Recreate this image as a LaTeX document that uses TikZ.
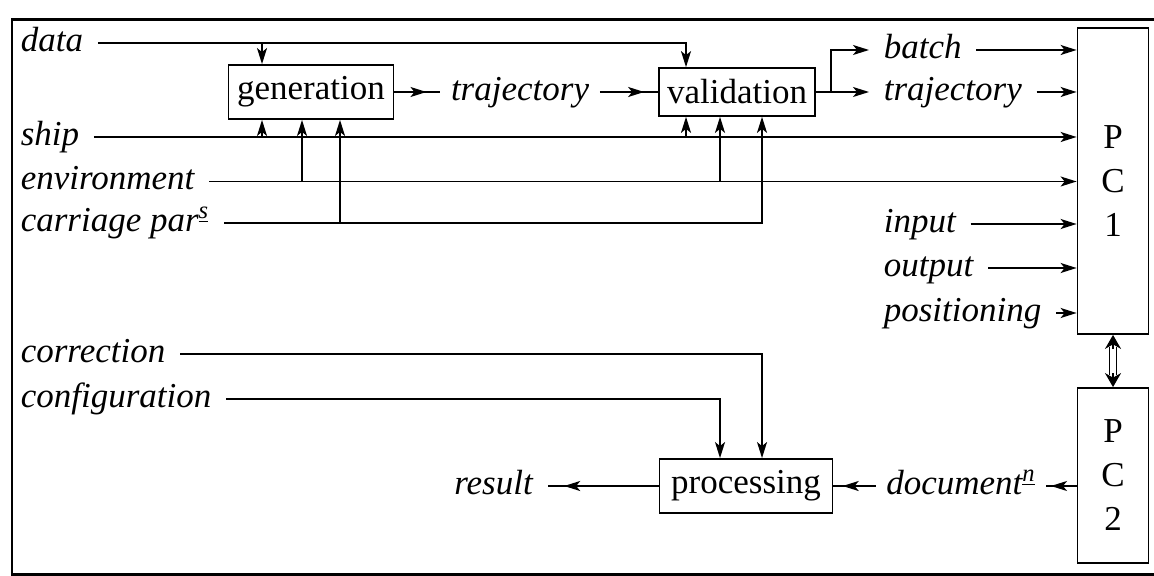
\documentclass[tikz,border=0pt]{standalone}
\usepackage{fontspec}
\setmainfont{Liberation Serif}
\usetikzlibrary{arrows.meta}
\usetikzlibrary{decorations.markings}

\begin{document}
\fontsize{17.5}{22}\selectfont
\begin{tikzpicture}[x=0.5pt, y=-0.5pt, line width=0.8pt,
process/.style = {draw, rectangle, line width=0.9pt, minimum height=22pt, inner xsep=4pt},
computer/.style = {draw, rectangle, line width=0.9pt, minimum width=35.5pt, align=center},
signal/.style = {font=\itshape, anchor=west, inner xsep=7pt, inner ysep=1pt, text height=0.7em, text depth=0.24em},
flow/.style = {-{Stealth[length=8pt, width=5pt, inset=2pt]}},
midflow/.style = {postaction={decorate}, decoration={markings, mark=at position #1 with {\arrow{Stealth[length=8pt, width=5pt, inset=2pt]}}}}]

\useasboundingbox (0,0) rectangle (1154,576);
\draw[line width=1.3pt] (1154,19.5) -- (12,19.5) -- (12,574.5) -- (1154,574.5);

% columns where the inputs go up or down
\coordinate (ga) at (262,0);
\coordinate (gb) at (302,0);
\coordinate (gc) at (340,0);
\coordinate (va) at (686,0);
\coordinate (vb) at (720,0);
\coordinate (vc) at (762,0);
\coordinate (vo) at (831,0);

\node[process, minimum width=82.5pt] (gen) at (311,92) {generation};
\node[process, minimum width=77.5pt] (val) at (737,92) {validation};
\node[process, minimum width=86.5pt, minimum height=24pt] (proc) at (746,486) {processing};
\node[computer, minimum height=153pt] (pc1) at (1113,181) {P\\C\\1};
\node[computer, minimum height=87.5pt] (pc2) at (1113,475.5) {P\\C\\2};

\node[signal] (data) at (6,43) {data};
\node[signal] (ship) at (6,137) {ship};
\node[signal] (env) at (6,181.5) {environment};
\node[signal] (car) at (6,223) {carriage par\textsuperscript{\underline{s}}};
\node[signal] (corr) at (6,354) {correction};
\node[signal] (conf) at (6,399) {configuration};

\node[signal, anchor=center, inner xsep=5pt] (traj) at (520,92) {trajectory};
\node[signal] (batch) at (869,50) {batch};
\node[signal] (trajout) at (869,92) {trajectory};
\node[signal] (input) at (869,224) {input};
\node[signal] (output) at (869,268) {output};
\node[signal] (positioning) at (869,313) {positioning};

\node[signal, anchor=center] (result) at (493.5,486) {result};
\node[signal, anchor=center, inner xsep=5pt] (doc) at (961,486) {document\textsuperscript{\underline{n}}};

% data
\draw[flow] (data.east) -| (va |- val.north);
\draw[flow] (data.east -| ga) -- (ga |- gen.north);

% ship
\draw[flow] (ship.east) -- (ship.east -| pc1.west);
\draw[flow] (ship.east -| ga) -- (ga |- gen.south);
\draw[flow] (ship.east -| va) -- (va |- val.south);

% environment
\draw[flow] (env.east) -- (env.east -| pc1.west);
\draw[flow] (env.east -| gb) -- (gb |- gen.south);
\draw[flow] (env.east -| vb) -- (vb |- val.south);

% carriage
\draw[flow] (car.east) -| (vc |- val.south);
\draw[flow] (car.east -| gc) -- (gc |- gen.south);

% generation to validation
\draw[midflow=0.7] (gen.east) -- (traj.west);
\draw[midflow=0.76] (traj.east) -- (val.west);

% validation outputs
\draw[flow] (val.east) -- (val.east -| vo) |- (batch.west);
\draw[flow] (val.east) -- (trajout.west);

% into PC1
\draw[flow] (batch.east) -- (batch.east -| pc1.west);
\draw[flow] (trajout.east) -- (trajout.east -| pc1.west);
\draw[flow] (input.east) -- (input.east -| pc1.west);
\draw[flow] (output.east) -- (output.east -| pc1.west);
\draw[flow] (positioning.east) -- (positioning.east -| pc1.west);

% processing
\draw[flow] (corr.east) -| (vc |- proc.north);
\draw[flow] (conf.east) -| (vb |- proc.north);
\draw[midflow=0.85] (proc.west) -- (result.east);
\draw[midflow=0.78] (doc.west) -- (proc.east);
\draw[midflow=0.85] (doc.east -| pc2.west) -- (doc.east);

% PC1 <-> PC2
\draw[double, double distance=3pt, line width=0.7pt, shorten <=6pt, shorten >=6pt] (pc1.south) -- (pc2.north);
\draw[-{Stealth[length=7pt, width=8pt]}] ([yshift=-7pt]pc1.south) -- (pc1.south);
\draw[-{Stealth[length=7pt, width=8pt]}] ([yshift=7pt]pc2.north) -- (pc2.north);

\end{tikzpicture}
\end{document}
